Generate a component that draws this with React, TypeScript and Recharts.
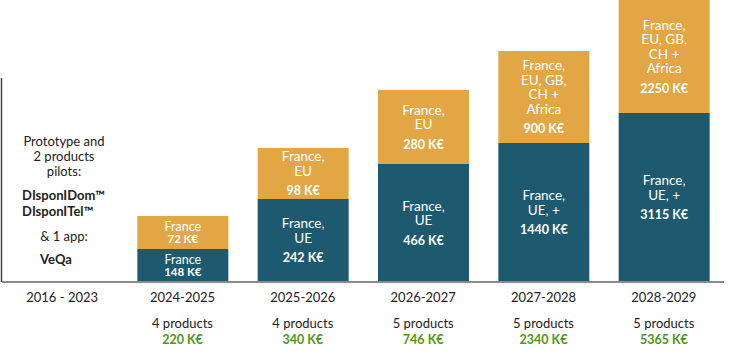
import React from "react"
import { BarChart, Bar, XAxis, YAxis, LabelList } from "recharts"

const categories = ["2016 - 2023", "2024-2025", "2025-2026", "2026-2027", "2027-2028", "2028-2029"]
// bar heights as drawn in the picture (not proportional to the revenue labels)
const coreHeight = [0, 33, 83, 118, 139, 169]
const growthHeight = [0, 33, 51, 74, 92, 113]

const coreRegions = [[], ["France"], ["France,", "UE"], ["France,", "UE"], ["France,", "UE, +"], ["France,", "UE, +"]]
const coreRevenue = ["", "148 K€", "242 K€", "466 K€", "1440 K€", "3115 K€"]
const growthRegions = [
  [],
  ["France"],
  ["France,", "EU"],
  ["France,", "EU"],
  ["France,", "EU, GB,", "CH +", "Africa"],
  ["France,", "EU, GB,", "CH +", "Africa"],
]
const growthRevenue = ["", "72 K€", "98 K€", "280 K€", "900 K€", "2250 K€"]
const productCounts = ["", "4 products", "4 products", "5 products", "5 products", "5 products"]
const totals = ["", "220 K€", "340 K€", "746 K€", "2340 K€", "5365 K€"]

const data = categories.map((c, i) => ({
  period: c,
  core: coreHeight[i],
  growth: growthHeight[i],
}))

const FONT = "Lato, 'Open Sans', sans-serif"
const TEAL = "#1e5a6f"
const ORANGE = "#e2a644"
const GREEN = "#4a9a14"

function segmentLabel(regions: string[][], revenue: string[]) {
  return (props: any) => {
    const { x, y, width, height, value } = props
    const index = categories.indexOf(value)
    const lines = regions[index]
    if (!lines || lines.length === 0) return null
    const small = index === 1
    const lh = small ? 12.5 : 14.5
    const gap = small ? 12.5 : 20
    const block = (lines.length - 1) * lh + gap
    const cx = Number(x) + Number(width) / 2
    const top = Number(y) + Number(height) / 2 - block / 2
    return (
      <g fontFamily={FONT} fill="#fff" textAnchor="middle">
        {lines.map((l, k) => (
          <text key={k} x={cx} y={top + k * lh} dominantBaseline="central" fontSize={small ? 12.5 : 13.5}>
            {l}
          </text>
        ))}
        <text
          x={cx}
          y={top + (lines.length - 1) * lh + gap}
          dominantBaseline="central"
          fontSize={small ? 11.5 : 12.5}
          fontWeight="bold"
        >
          {revenue[index]}
        </text>
      </g>
    )
  }
}

function PeriodTick(props: any) {
  const { x, y, payload } = props
  const i = categories.indexOf(payload.value)
  return (
    <g fontFamily={FONT} textAnchor="middle">
      <text x={x} y={y} dy={7} dominantBaseline="central" fontSize={13} fill="#222">
        {payload.value}
      </text>
      {productCounts[i] && (
        <text x={x} y={y} dy={33} dominantBaseline="central" fontSize={13} fill="#222">
          {productCounts[i]}
        </text>
      )}
      {totals[i] && (
        <text x={x} y={y} dy={49} dominantBaseline="central" fontSize={12.5} fontWeight="bold" fill={GREEN}>
          {totals[i]}
        </text>
      )}
    </g>
  )
}

export default function App() {
  return (
    <div style={{ position: "absolute", left: 0, top: 0, width: 737, height: 356, background: "#fff" }}>
      <BarChart width={737} height={356} data={data} margin={{ top: 0, right: 13, left: 2, bottom: 0 }} barCategoryGap={0}>
        <YAxis hide domain={[0, 282]} />
        <XAxis
          dataKey="period"
          height={74}
          axisLine={{ stroke: "#8a8a8a", strokeWidth: 2 }}
          tickLine={false}
          interval={0}
          tick={<PeriodTick />}
        />
        <Bar dataKey="core" stackId="a" fill={TEAL} barSize={91} isAnimationActive={false}>
          <LabelList dataKey="period" content={segmentLabel(coreRegions, coreRevenue)} />
        </Bar>
        <Bar dataKey="growth" stackId="a" fill={ORANGE} barSize={91} isAnimationActive={false}>
          <LabelList dataKey="period" content={segmentLabel(growthRegions, growthRevenue)} />
        </Bar>
      </BarChart>
      <svg width={737} height={356} style={{ position: "absolute", left: 0, top: 0, pointerEvents: "none" }}>
        <line x1={1.5} y1={78} x2={1.5} y2={282} stroke="#444" strokeWidth={1.5} />
        <g fontFamily={FONT} fontSize={13} fill="#222" dominantBaseline="central">
          <text x={64} y={141} textAnchor="middle">Prototype and</text>
          <text x={64} y={156} textAnchor="middle">2 products</text>
          <text x={64} y={171} textAnchor="middle">pilots:</text>
          <text x={22} y={195} fontWeight="bold">DIsponIDom™</text>
          <text x={22} y={211} fontWeight="bold">DIsponITel™</text>
          <text x={64} y={236} textAnchor="middle">&amp; 1 app:</text>
          <text x={40} y={259} fontWeight="bold">VeQa</text>
        </g>
      </svg>
    </div>
  )
}
